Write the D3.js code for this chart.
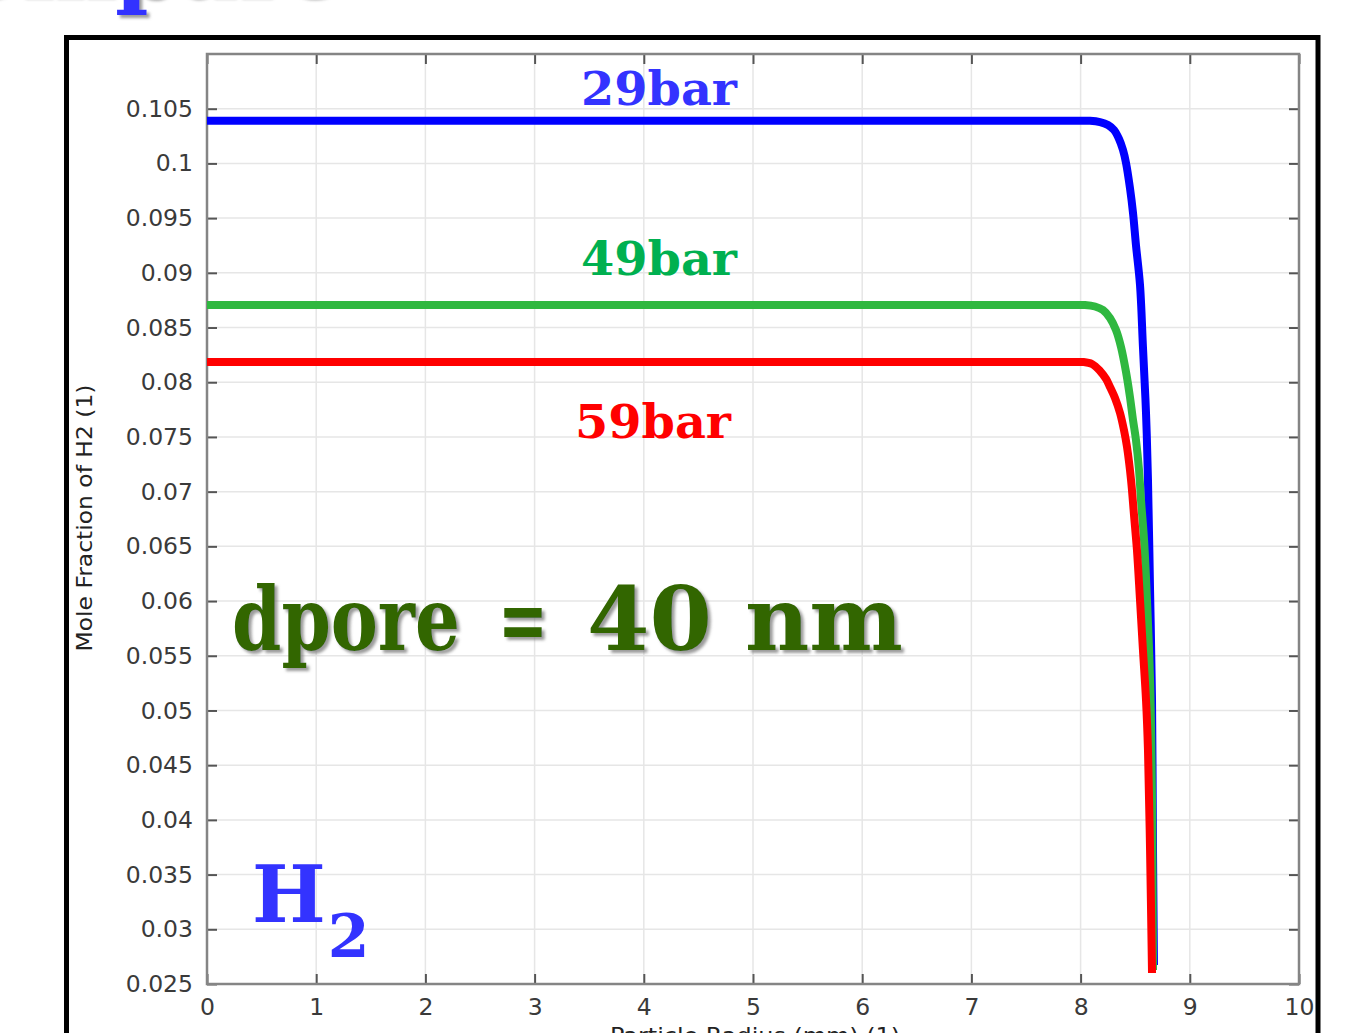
<!DOCTYPE html>
<html>
<head>
<meta charset="utf-8">
<script src="https://cdn.jsdelivr.net/npm/d3@7"></script>
<style>
  html, body { margin: 0; padding: 0; background: #fff; overflow: hidden; }
  svg { display: block; }
</style>
</head>
<body>
<svg id="chart" width="1348" height="1033"></svg>
<script>
// Mole fraction of H2 along the particle radius, three operating pressures
const seriesLabels = ["29bar", "49bar", "59bar"];
const seriesColors = ["#0000ff", "#2fb840", "#ff0000"];
const labelColors  = ["#3333ff", "#00b050", "#ff0000"];

const radius29 = [0, 8.0, 8.086, 8.178, 8.251, 8.306, 8.352, 8.388, 8.416, 8.452, 8.480, 8.507, 8.544, 8.571, 8.599, 8.617, 8.636, 8.654, 8.663, 8.672];
const frac29   = [0.1039, 0.1039, 0.1039, 0.10378, 0.10351, 0.10305, 0.10223, 0.10123, 0.10004, 0.09775, 0.09547, 0.09254, 0.08889, 0.08322, 0.07719, 0.07106, 0.06101, 0.05096, 0.03725, 0.02673];

const radius49 = [0, 8.0, 8.040, 8.132, 8.205, 8.269, 8.324, 8.370, 8.416, 8.452, 8.480, 8.507, 8.535, 8.553, 8.581, 8.608, 8.636, 8.654, 8.663];
const frac49   = [0.08706, 0.08706, 0.08706, 0.08692, 0.0866, 0.08587, 0.08477, 0.08322, 0.08093, 0.07865, 0.07654, 0.07472, 0.07198, 0.06924, 0.06558, 0.0601, 0.05278, 0.04182, 0.02628];

const radius59 = [0, 7.95, 8.022, 8.104, 8.178, 8.233, 8.269, 8.315, 8.361, 8.397, 8.425, 8.462, 8.489, 8.516, 8.544, 8.571, 8.599, 8.617, 8.636, 8.654];
const frac59   = [0.08185, 0.08185, 0.08185, 0.08167, 0.08103, 0.0803, 0.07957, 0.07856, 0.07719, 0.07563, 0.07408, 0.07106, 0.06787, 0.06467, 0.0601, 0.05553, 0.05096, 0.04639, 0.03725, 0.0260];

const xTicks = [0, 1, 2, 3, 4, 5, 6, 7, 8, 9, 10];
const yTicks = [0.025, 0.03, 0.035, 0.04, 0.045, 0.05, 0.055, 0.06, 0.065, 0.07, 0.075, 0.08, 0.085, 0.09, 0.095, 0.1, 0.105];
const yTickLabels = ["0.025", "0.03", "0.035", "0.04", "0.045", "0.05", "0.055", "0.06", "0.065", "0.07", "0.075", "0.08", "0.085", "0.09", "0.095", "0.1", "0.105"];

const xTitle = "Particle Radius (mm) (1)";
const yTitle = "Mole Fraction of H2 (1)";
const poreWords = ["dpore", "=", "40", "nm"];

const svg = d3.select("#chart");
const defs = svg.append("defs");
const shadow = defs.append("filter").attr("id", "softShadow")
  .attr("x", "-10%").attr("y", "-20%").attr("width", "120%").attr("height", "150%");
shadow.append("feDropShadow")
  .attr("dx", 3).attr("dy", 3).attr("stdDeviation", 1.6)
  .attr("flood-color", "#7a7a7a").attr("flood-opacity", 0.75);

// Heading text, mostly above the page edge
svg.append("text")
  .attr("x", -112).attr("y", -4)
  .attr("font-family", "DejaVu Serif").attr("font-weight", "bold")
  .attr("font-size", 90).attr("fill", "#3333ff")
  .attr("filter", "url(#softShadow)")
  .text("Compare");

// Black frame around the figure
svg.append("rect")
  .attr("x", 66.5).attr("y", 37.5).attr("width", 1251.5).attr("height", 1100)
  .attr("fill", "#fff").attr("stroke", "#000").attr("stroke-width", 5);

const plotL = 207, plotR = 1299, plotT = 54, plotB = 984;
const x = d3.scaleLinear().domain([0, 10]).range([plotL, plotR]);
const y = d3.scaleLinear().domain([0.025, 0.110]).range([plotB, plotT]);

// Grid
const grid = svg.append("g");
grid.selectAll(".gx").data(xTicks).join("line")
  .attr("x1", d => x(d)).attr("x2", d => x(d))
  .attr("y1", plotT).attr("y2", plotB)
  .attr("stroke", "#e6e6e6").attr("stroke-width", 1.5);
grid.selectAll(".gy").data(yTicks).join("line")
  .attr("x1", plotL).attr("x2", plotR)
  .attr("y1", d => y(d)).attr("y2", d => y(d))
  .attr("stroke", "#e6e6e6").attr("stroke-width", 1.5);

// Axes with inward ticks on all four sides
function styleAxis(g) {
  g.select(".domain").remove();
  g.selectAll(".tick line").attr("stroke", "#555").attr("stroke-width", 2);
  g.selectAll(".tick text").attr("font-family", "DejaVu Sans").attr("font-size", 23.5).attr("fill", "#3a3a3a");
}
const tickLen = 10;
svg.append("g").attr("transform", `translate(0,${plotB})`)
  .call(d3.axisBottom(x).tickValues(xTicks).tickSizeInner(-tickLen).tickSizeOuter(0).tickPadding(14).tickFormat(d3.format("d")))
  .call(styleAxis);
svg.append("g").attr("transform", `translate(0,${plotT})`)
  .call(d3.axisTop(x).tickValues(xTicks).tickSizeInner(-tickLen).tickSizeOuter(0).tickFormat(""))
  .call(styleAxis);
svg.append("g").attr("transform", `translate(${plotL},0)`)
  .call(d3.axisLeft(y).tickValues(yTicks).tickSizeInner(-tickLen).tickSizeOuter(0).tickPadding(14)
    .tickFormat((d, i) => yTickLabels[i]))
  .call(styleAxis);
svg.append("g").attr("transform", `translate(${plotR},0)`)
  .call(d3.axisRight(y).tickValues(yTicks).tickSizeInner(-tickLen).tickSizeOuter(0).tickFormat(""))
  .call(styleAxis);

// Plot box
svg.append("rect")
  .attr("x", plotL).attr("y", plotT).attr("width", plotR - plotL).attr("height", plotB - plotT)
  .attr("fill", "none").attr("stroke", "#858585").attr("stroke-width", 2.5);

// Axis titles
svg.append("text")
  .attr("x", 755).attr("y", 1043)
  .attr("text-anchor", "middle")
  .attr("font-family", "DejaVu Sans").attr("font-size", 22).attr("fill", "#222")
  .attr("textLength", 290).attr("lengthAdjust", "spacingAndGlyphs")
  .text(xTitle);
svg.append("text")
  .attr("transform", "translate(92,518) rotate(-90)")
  .attr("text-anchor", "middle")
  .attr("font-family", "DejaVu Sans").attr("font-size", 22).attr("fill", "#222")
  .attr("textLength", 267).attr("lengthAdjust", "spacingAndGlyphs")
  .text(yTitle);

// Curves
const radii = [radius29, radius49, radius59];
const fracs = [frac29, frac49, frac59];
const line = d3.line().x(d => x(d[0])).y(d => y(d[1])).curve(d3.curveCatmullRom.alpha(0.5));
const curves = svg.append("g");
radii.forEach((r, i) => {
  curves.append("path")
    .datum(r.map((v, j) => [v, fracs[i][j]]))
    .attr("d", line)
    .attr("fill", "none")
    .attr("stroke", seriesColors[i])
    .attr("stroke-width", 8)
    .attr("stroke-linecap", "butt")
    .attr("stroke-linejoin", "round");
});

// Series labels
const labelPos = [[659, 105], [659, 275], [653, 438]];
seriesLabels.forEach((t, i) => {
  svg.append("text")
    .attr("x", labelPos[i][0]).attr("y", labelPos[i][1])
    .attr("text-anchor", "middle")
    .attr("font-family", "DejaVu Serif").attr("font-weight", "bold")
    .attr("font-size", 47).attr("fill", labelColors[i])
    .attr("textLength", 156).attr("lengthAdjust", "spacingAndGlyphs")
    .text(t);
});

// Pore diameter annotation, one word per text element
const poreX = [232, 498, 587, 745];
const poreW = [228, 50, 125, 158];
const pore = svg.append("g").attr("filter", "url(#softShadow)");
poreWords.forEach((w, i) => {
  pore.append("text")
    .attr("x", poreX[i]).attr("y", 650)
    .attr("font-family", "DejaVu Serif").attr("font-weight", "bold")
    .attr("font-size", 88).attr("fill", "#336600")
    .attr("textLength", poreW[i]).attr("lengthAdjust", "spacingAndGlyphs")
    .text(w);
});

// Species label
const h2 = svg.append("text")
  .attr("x", 252).attr("y", 922)
  .attr("font-family", "DejaVu Serif").attr("font-weight", "bold")
  .attr("fill", "#3333ff");
h2.append("tspan").attr("font-size", 78).text("H");
h2.append("tspan").attr("font-size", 60).attr("dy", 35).attr("dx", 2).text("2");
</script>
</body>
</html>
